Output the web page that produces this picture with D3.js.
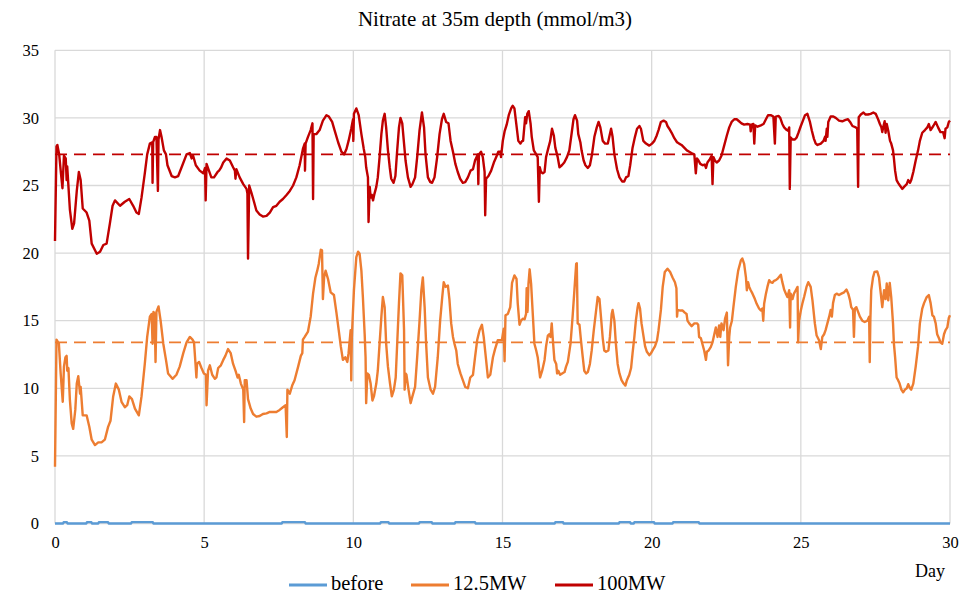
<!DOCTYPE html>
<html><head><meta charset="utf-8">
<script src="https://cdn.jsdelivr.net/npm/d3@7"></script>
<style>
body{margin:0;background:#fff;}
text{font-family:"Liberation Serif","Times New Roman",serif;fill:#000;}
</style></head>
<body><svg id="c" width="975" height="596"></svg>
<script>
const title = "Nitrate at 35m depth (mmol/m3)";
const xTicks = [0,5,10,15,20,25,30];
const yTicks = [0,5,10,15,20,25,30,35];
const seriesNames = ["before","12.5MW","100MW"];
const seriesColors = ["#5B9BD5","#ED7D31","#C00000"];
const mean125 = 13.4;
const mean100 = 27.3;

const before = [[0,0],[0.27,0],[0.29,0.1],[0.4,0.1],[0.42,0],[1.05,0],[1.07,0.1],[1.22,0.1],[1.24,0],[1.45,0],[1.47,0.1],[1.78,0.1],[1.8,0],[2.55,0],[2.57,0.1],[3.28,0.1],[3.3,0],[7.6,0],[7.62,0.1],[8.38,0.1],[8.4,0],[10.9,0],[10.92,0.1],[11.18,0.1],[11.2,0],[12.2,0],[12.22,0.1],[12.63,0.1],[12.65,0],[13.4,0],[13.42,0.1],[14.08,0.1],[14.1,0],[16.75,0],[16.77,0.1],[17.03,0.1],[17.05,0],[18.9,0],[18.92,0.1],[19.28,0.1],[19.3,0],[19.4,0],[19.42,0.1],[20.08,0.1],[20.1,0],[20.7,0],[20.72,0.1],[21.58,0.1],[21.6,0],[30,0]];

const mw125 = [[0,4.2],[0.05,13.6],[0.13,13.3],[0.19,11.1],[0.26,9.0],[0.30,11.6],[0.35,12.3],[0.39,12.4],[0.41,11.3],[0.45,11.5],[0.50,9.1],[0.56,7.4],[0.61,7.0],[0.68,8.4],[0.73,10.35],[0.78,10.9],[0.84,9.6],[0.86,10.1],[0.93,8.0],[1.06,8.0],[1.15,7.15],[1.23,6.2],[1.34,5.8],[1.45,6.0],[1.56,6.0],[1.67,6.2],[1.78,7.15],[1.86,7.6],[1.95,9.4],[2.04,10.35],[2.14,9.9],[2.23,9.0],[2.34,8.6],[2.42,8.75],[2.49,9.4],[2.58,9.2],[2.68,8.5],[2.81,8.0],[2.90,9.4],[3.01,11.8],[3.09,13.8],[3.18,15.3],[3.24,15.5],[3.27,13.3],[3.30,15.65],[3.34,15.5],[3.37,11.95],[3.40,15.65],[3.47,16.06],[3.54,15.0],[3.63,13.3],[3.72,12.1],[3.79,11.1],[3.94,10.7],[4.07,11.0],[4.18,11.6],[4.30,12.6],[4.41,13.4],[4.52,13.8],[4.61,13.6],[4.66,13.4],[4.71,11.8],[4.74,10.8],[4.76,11.8],[4.83,11.95],[4.91,11.5],[4.99,11.1],[5.06,11.0],[5.08,8.75],[5.13,11.3],[5.19,11.7],[5.27,11.0],[5.36,10.7],[5.41,10.8],[5.47,11.5],[5.56,11.7],[5.64,12.1],[5.71,12.4],[5.80,12.9],[5.89,12.6],[5.97,11.8],[6.05,11.3],[6.12,10.8],[6.16,11.0],[6.23,10.35],[6.31,9.9],[6.34,7.5],[6.36,10.6],[6.42,10.6],[6.47,9.2],[6.56,8.5],[6.64,8.1],[6.75,7.9],[6.86,7.95],[6.97,8.1],[7.09,8.15],[7.20,8.25],[7.31,8.25],[7.42,8.25],[7.53,8.4],[7.64,8.6],[7.73,8.75],[7.77,6.4],[7.79,9.9],[7.87,9.6],[7.95,10.2],[8.03,10.6],[8.15,11.6],[8.24,12.4],[8.29,12.6],[8.31,13.6],[8.37,13.8],[8.48,14.2],[8.57,15.3],[8.65,17.0],[8.73,18.2],[8.79,18.7],[8.84,19.2],[8.91,20.25],[8.95,20.2],[8.98,16.6],[9.02,18.2],[9.07,18.7],[9.15,18.1],[9.24,17.1],[9.35,16.9],[9.43,15.65],[9.51,14.3],[9.58,13.1],[9.65,12.1],[9.73,12.3],[9.80,11.95],[9.84,12.6],[9.91,14.3],[9.93,10.6],[9.95,13.8],[10.02,17.25],[10.10,19.7],[10.16,20.1],[10.21,19.95],[10.27,18.7],[10.32,16.75],[10.38,14.0],[10.41,12.3],[10.43,8.9],[10.47,11.1],[10.52,11.0],[10.58,10.35],[10.64,9.1],[10.69,9.4],[10.77,10.35],[10.82,11.3],[10.88,13.3],[10.94,15.3],[10.99,16.75],[11.05,16.0],[11.10,13.3],[11.16,11.6],[11.23,10.35],[11.29,9.4],[11.36,9.9],[11.42,10.8],[11.47,13.3],[11.53,16.3],[11.58,18.5],[11.64,18.35],[11.70,14.3],[11.72,9.9],[11.75,11.1],[11.78,11.0],[11.85,9.9],[11.92,8.9],[11.98,9.4],[12.07,10.1],[12.14,12.3],[12.22,15.0],[12.28,17.25],[12.33,18.2],[12.39,16.0],[12.44,13.3],[12.50,10.8],[12.59,9.9],[12.67,9.6],[12.74,10.1],[12.83,12.3],[12.91,15.0],[12.98,16.75],[13.03,17.85],[13.09,17.5],[13.17,17.6],[13.22,16.6],[13.28,14.8],[13.34,13.8],[13.39,13.3],[13.45,12.8],[13.50,11.8],[13.59,11.1],[13.67,10.6],[13.75,10.1],[13.84,10.0],[13.92,10.8],[14.01,11.0],[14.08,12.3],[14.15,13.55],[14.23,14.3],[14.31,14.7],[14.37,13.8],[14.45,12.1],[14.51,10.8],[14.59,11.0],[14.68,12.3],[14.75,12.9],[14.84,13.55],[14.90,13.55],[14.98,13.55],[15.04,14.4],[15.07,12.0],[15.10,15.4],[15.18,15.5],[15.26,16.0],[15.32,17.8],[15.40,18.35],[15.47,18.1],[15.51,16.3],[15.57,14.7],[15.62,15.0],[15.68,15.15],[15.74,15.1],[15.79,15.5],[15.81,17.4],[15.84,15.65],[15.87,17.7],[15.91,18.8],[15.96,17.7],[16.02,15.3],[16.07,13.3],[16.13,12.8],[16.18,12.3],[16.26,10.8],[16.33,11.3],[16.41,12.1],[16.46,13.1],[16.52,13.9],[16.57,14.0],[16.61,13.8],[16.65,14.8],[16.68,13.8],[16.74,12.1],[16.80,11.8],[16.83,11.1],[16.87,11.3],[16.93,11.0],[17.00,11.1],[17.08,11.2],[17.13,11.6],[17.19,11.95],[17.28,13.3],[17.35,15.3],[17.41,17.25],[17.47,19.2],[17.49,19.25],[17.52,14.8],[17.58,14.7],[17.63,13.55],[17.69,12.3],[17.74,11.3],[17.80,11.1],[17.86,11.2],[17.93,11.8],[17.99,12.8],[18.06,14.3],[18.14,15.8],[18.19,16.75],[18.25,16.6],[18.30,15.3],[18.36,13.7],[18.41,12.8],[18.47,12.7],[18.55,12.8],[18.60,13.8],[18.66,15.5],[18.69,15.8],[18.75,15.0],[18.80,13.3],[18.86,11.8],[18.92,11.1],[18.99,10.6],[19.06,10.35],[19.12,10.2],[19.17,10.6],[19.25,11.0],[19.31,11.5],[19.36,12.6],[19.42,13.8],[19.47,15.0],[19.53,16.0],[19.56,16.3],[19.61,15.9],[19.66,14.8],[19.73,13.8],[19.78,13.1],[19.84,12.7],[19.92,12.45],[19.98,12.6],[20.03,12.8],[20.11,13.1],[20.18,13.55],[20.23,14.3],[20.31,15.8],[20.37,17.5],[20.44,18.6],[20.53,18.85],[20.62,18.6],[20.70,18.2],[20.78,17.85],[20.83,17.4],[20.85,15.3],[20.87,15.8],[20.96,15.75],[21.04,15.75],[21.11,15.6],[21.17,15.5],[21.20,15.0],[21.26,14.8],[21.34,14.6],[21.43,14.8],[21.52,14.8],[21.56,14.7],[21.59,13.8],[21.65,13.7],[21.71,13.2],[21.76,12.8],[21.82,12.1],[21.85,12.7],[21.91,12.8],[21.98,13.05],[22.04,13.4],[22.10,14.0],[22.15,14.5],[22.21,13.8],[22.26,14.65],[22.30,13.8],[22.34,14.8],[22.41,14.3],[22.46,15.15],[22.52,15.6],[22.56,11.7],[22.60,13.8],[22.63,14.5],[22.69,15.0],[22.74,16.0],[22.82,17.5],[22.90,18.7],[22.99,19.45],[23.04,19.6],[23.10,19.2],[23.16,18.2],[23.19,17.25],[23.23,17.85],[23.27,17.5],[23.32,17.25],[23.38,17.0],[23.46,16.6],[23.52,16.25],[23.60,15.9],[23.66,15.75],[23.71,15.9],[23.74,15.0],[23.77,16.25],[23.83,17.0],[23.88,17.5],[23.94,18.0],[23.99,17.85],[24.05,17.8],[24.10,17.95],[24.16,18.0],[24.22,18.1],[24.33,18.4],[24.38,17.85],[24.42,17.5],[24.44,17.3],[24.50,17.0],[24.55,16.75],[24.61,17.25],[24.64,14.5],[24.66,17.0],[24.72,16.6],[24.77,17.0],[24.83,17.25],[24.89,17.5],[24.91,13.4],[24.94,15.0],[25.00,15.75],[25.05,16.25],[25.11,16.75],[25.19,17.5],[25.25,17.85],[25.33,17.5],[25.39,16.5],[25.47,14.8],[25.53,13.9],[25.61,13.55],[25.67,12.9],[25.72,13.8],[25.78,14.0],[25.83,14.3],[25.89,14.8],[25.95,15.3],[26.00,15.8],[26.04,15.3],[26.08,16.3],[26.14,16.9],[26.20,17.0],[26.28,16.9],[26.36,17.0],[26.45,17.1],[26.53,17.3],[26.59,17.0],[26.65,16.5],[26.69,16.0],[26.75,15.8],[26.78,13.8],[26.81,15.9],[26.86,16.0],[26.92,15.65],[26.98,15.3],[27.06,15.0],[27.14,14.9],[27.23,15.0],[27.29,15.3],[27.31,11.95],[27.33,15.0],[27.36,17.25],[27.42,18.2],[27.47,18.6],[27.56,18.65],[27.62,18.2],[27.68,17.0],[27.73,16.0],[27.79,17.25],[27.84,16.6],[27.88,17.75],[27.93,16.5],[27.98,17.8],[28.03,16.75],[28.09,14.8],[28.12,13.3],[28.16,12.3],[28.21,10.8],[28.26,10.6],[28.31,10.35],[28.37,9.9],[28.43,9.7],[28.49,9.9],[28.55,10.0],[28.60,10.3],[28.66,10.0],[28.70,9.9],[28.77,10.35],[28.85,11.6],[28.93,13.1],[28.99,14.8],[29.07,15.9],[29.13,16.3],[29.22,16.75],[29.29,16.9],[29.35,16.3],[29.41,15.4],[29.46,15.3],[29.52,14.8],[29.57,14.0],[29.63,13.7],[29.68,13.4],[29.74,13.3],[29.80,14.0],[29.85,14.3],[29.91,14.5],[29.96,15.2],[30,15.4]];

const mw100 = [[0,20.9],[0.05,27.9],[0.08,28.0],[0.14,27.3],[0.2,25.9],[0.25,24.8],[0.30,27.2],[0.36,27.0],[0.39,25.4],[0.41,26.4],[0.46,24.6],[0.50,23.2],[0.58,21.8],[0.64,22.2],[0.73,24.6],[0.80,26.0],[0.86,25.4],[0.93,23.3],[1.06,23.0],[1.15,22.4],[1.23,20.7],[1.40,19.95],[1.51,20.1],[1.62,20.6],[1.73,20.7],[1.84,22.2],[1.93,23.5],[2.01,23.9],[2.18,23.5],[2.34,23.8],[2.49,24.0],[2.62,23.5],[2.73,23.0],[2.81,22.9],[2.90,24.1],[3.01,25.9],[3.09,27.3],[3.18,28.1],[3.26,28.2],[3.27,25.2],[3.29,28.2],[3.35,28.6],[3.40,28.6],[3.45,24.6],[3.47,28.4],[3.52,29.1],[3.57,28.6],[3.65,27.6],[3.72,27.3],[3.77,26.5],[3.91,25.7],[4.02,25.6],[4.13,25.7],[4.27,26.5],[4.41,27.3],[4.52,27.4],[4.58,27.0],[4.63,27.2],[4.72,26.5],[4.85,26.1],[4.97,25.9],[5.03,26.3],[5.05,23.9],[5.08,26.6],[5.16,26.1],[5.24,25.6],[5.33,25.6],[5.45,26.0],[5.50,26.1],[5.56,26.3],[5.64,26.7],[5.75,27.0],[5.86,26.85],[5.97,26.35],[6.03,26.1],[6.05,25.5],[6.08,26.2],[6.19,25.6],[6.31,25.1],[6.42,24.75],[6.45,24.4],[6.47,19.6],[6.51,25.0],[6.58,24.5],[6.67,23.8],[6.75,23.15],[6.86,22.86],[6.97,22.7],[7.09,22.75],[7.20,23.0],[7.31,23.4],[7.42,23.5],[7.53,23.8],[7.64,24.0],[7.76,24.3],[7.87,24.6],[7.98,25.0],[8.09,25.6],[8.20,26.5],[8.31,27.7],[8.37,28.1],[8.38,26.1],[8.40,28.1],[8.48,28.6],[8.57,29.1],[8.63,29.6],[8.65,24.0],[8.67,28.8],[8.76,28.8],[8.87,29.1],[8.98,29.8],[9.10,30.2],[9.18,30.1],[9.29,29.7],[9.37,29.1],[9.49,28.2],[9.60,27.5],[9.69,27.3],[9.77,27.7],[9.84,28.3],[9.93,29.2],[9.99,29.9],[10.00,28.3],[10.02,30.3],[10.10,30.7],[10.18,30.2],[10.27,28.8],[10.35,27.7],[10.40,27.1],[10.43,26.35],[10.49,25.6],[10.51,22.3],[10.55,24.9],[10.58,24.1],[10.62,24.3],[10.66,23.9],[10.71,24.4],[10.77,24.9],[10.82,25.6],[10.88,27.1],[10.94,28.8],[10.99,29.8],[11.05,30.3],[11.10,29.3],[11.16,27.6],[11.22,26.35],[11.27,25.5],[11.35,25.2],[11.41,25.7],[11.47,27.6],[11.53,29.3],[11.58,30.0],[11.64,29.6],[11.70,28.1],[11.75,26.85],[11.83,25.6],[11.92,24.9],[11.98,25.1],[12.07,25.6],[12.14,27.1],[12.22,29.1],[12.30,30.4],[12.37,29.3],[12.42,27.3],[12.50,25.6],[12.58,25.25],[12.64,25.2],[12.72,25.6],[12.81,27.1],[12.89,28.8],[12.97,29.9],[13.03,30.3],[13.11,29.7],[13.19,29.6],[13.26,28.3],[13.34,27.5],[13.42,26.6],[13.50,26.0],[13.58,25.5],[13.67,25.2],[13.75,25.25],[13.84,25.6],[13.93,26.1],[14.01,26.2],[14.08,26.85],[14.17,27.3],[14.19,25.1],[14.21,27.3],[14.28,27.5],[14.34,27.1],[14.40,26.0],[14.42,22.8],[14.45,25.5],[14.53,25.7],[14.62,26.1],[14.71,26.7],[14.79,27.1],[14.86,27.5],[14.93,27.5],[14.95,27.1],[15.01,28.3],[15.07,29.0],[15.14,29.5],[15.21,30.2],[15.29,30.7],[15.34,30.9],[15.40,30.7],[15.46,29.6],[15.53,28.3],[15.60,28.1],[15.66,28.3],[15.69,28.3],[15.71,28.8],[15.76,30.05],[15.79,29.6],[15.83,30.3],[15.88,30.5],[15.94,29.6],[15.98,28.6],[16.05,27.6],[16.13,27.3],[16.18,27.1],[16.22,23.8],[16.25,26.35],[16.29,26.0],[16.35,25.9],[16.41,26.0],[16.46,27.1],[16.54,27.8],[16.60,28.3],[16.66,29.2],[16.72,28.7],[16.77,27.8],[16.85,27.1],[16.91,26.35],[16.99,26.5],[17.07,26.7],[17.16,27.1],[17.24,27.6],[17.32,28.9],[17.38,29.9],[17.43,30.2],[17.50,29.8],[17.54,28.8],[17.61,28.2],[17.65,27.6],[17.72,26.85],[17.78,26.5],[17.86,26.3],[17.93,26.5],[18.00,27.3],[18.08,28.6],[18.16,29.3],[18.22,29.7],[18.28,29.3],[18.36,28.3],[18.44,28.1],[18.53,28.1],[18.58,28.6],[18.64,29.2],[18.69,28.6],[18.75,27.3],[18.84,26.2],[18.92,25.6],[19.01,25.3],[19.08,25.3],[19.14,25.6],[19.22,25.7],[19.28,26.5],[19.36,27.8],[19.44,28.6],[19.51,29.2],[19.59,29.4],[19.64,29.2],[19.72,28.3],[19.81,28.1],[19.92,27.95],[20.01,28.1],[20.09,28.3],[20.17,28.7],[20.23,29.1],[20.31,29.7],[20.40,29.8],[20.48,29.7],[20.53,29.4],[20.59,29.2],[20.67,28.9],[20.76,28.5],[20.85,28.2],[20.92,28.1],[21.00,28.0],[21.09,27.8],[21.18,27.6],[21.26,27.5],[21.37,27.35],[21.43,27.3],[21.48,25.9],[21.52,27.0],[21.57,26.85],[21.63,26.6],[21.71,26.5],[21.78,26.55],[21.82,26.3],[21.87,26.7],[21.95,26.95],[22.01,27.2],[22.04,25.1],[22.07,27.1],[22.12,26.85],[22.18,26.7],[22.26,26.85],[22.34,27.2],[22.43,27.95],[22.52,28.7],[22.60,29.3],[22.68,29.7],[22.77,29.9],[22.85,29.9],[22.93,29.75],[23.01,29.6],[23.10,29.5],[23.21,29.55],[23.30,29.5],[23.32,29.0],[23.35,29.5],[23.41,29.55],[23.44,28.1],[23.47,29.45],[23.55,29.35],[23.66,29.45],[23.75,29.55],[23.83,29.9],[23.90,30.2],[23.99,30.2],[24.08,30.1],[24.13,28.1],[24.16,30.1],[24.25,30.15],[24.31,30.0],[24.38,29.55],[24.44,29.3],[24.53,29.1],[24.57,29.05],[24.61,29.3],[24.63,24.75],[24.66,28.55],[24.72,28.4],[24.80,28.4],[24.86,28.55],[24.92,28.9],[25.00,29.4],[25.08,29.85],[25.14,30.2],[25.22,30.3],[25.30,29.75],[25.37,29.05],[25.44,28.45],[25.50,28.1],[25.56,28.0],[25.67,28.1],[25.76,28.3],[25.81,28.6],[25.83,28.3],[25.87,29.2],[25.89,28.6],[25.92,29.7],[26.00,30.1],[26.09,30.1],[26.17,30.0],[26.28,29.8],[26.39,29.75],[26.50,29.85],[26.58,29.9],[26.65,29.7],[26.73,29.4],[26.84,29.3],[26.89,29.2],[26.92,24.9],[26.94,30.05],[27.01,30.25],[27.10,30.4],[27.17,30.25],[27.25,30.25],[27.34,30.3],[27.43,30.4],[27.51,30.3],[27.59,29.9],[27.65,29.55],[27.70,29.3],[27.73,28.95],[27.77,29.4],[27.81,29.75],[27.84,28.9],[27.88,29.55],[27.93,29.05],[27.99,28.3],[28.03,28.1],[28.09,27.6],[28.12,27.0],[28.16,26.1],[28.21,25.4],[28.26,25.2],[28.32,25.0],[28.40,24.75],[28.46,24.9],[28.55,25.1],[28.60,25.4],[28.66,25.2],[28.70,25.4],[28.77,26.0],[28.85,26.85],[28.93,27.6],[28.99,28.3],[29.07,28.9],[29.16,29.1],[29.24,29.3],[29.29,29.55],[29.35,29.1],[29.44,29.4],[29.52,29.7],[29.60,29.3],[29.68,28.95],[29.77,28.95],[29.82,28.5],[29.85,29.2],[29.91,29.3],[29.96,29.7],[30,29.8]];

const svg = d3.select("#c");
const x = d3.scaleLinear().domain([0,30]).range([55,950]);
const y = d3.scaleLinear().domain([0,35]).range([523.5,50.3]);

// gridlines
const grid = svg.append("g");
grid.selectAll("line.h").data(yTicks).join("line")
  .attr("x1",x(0)).attr("x2",x(30)).attr("y1",d=>y(d)).attr("y2",d=>y(d))
  .attr("stroke","#D9D9D9").attr("stroke-width",1.3);
grid.selectAll("line.v").data(xTicks).join("line")
  .attr("x1",d=>x(d)).attr("x2",d=>x(d)).attr("y1",y(0)).attr("y2",y(35))
  .attr("stroke","#D9D9D9").attr("stroke-width",1.3);

// axes
const xAxis = svg.append("g").attr("transform",`translate(0,${y(0)})`)
  .call(d3.axisBottom(x).tickValues(xTicks).tickSize(0).tickPadding(13).tickFormat(d3.format("d")));
const yAxis = svg.append("g").attr("transform",`translate(${x(0)},0)`)
  .call(d3.axisLeft(y).tickValues(yTicks).tickSize(0).tickPadding(16).tickFormat(d3.format("d")));
[xAxis,yAxis].forEach(a=>{a.select(".domain").remove();a.selectAll("text").style("font-size","16.5px").style("font-family","'Liberation Serif',serif").attr("fill","#000");});

// mean dashed lines
svg.append("line").attr("x1",x(0)).attr("x2",x(30)).attr("y1",y(mean125)).attr("y2",y(mean125))
  .attr("stroke",seriesColors[1]).attr("stroke-width",1.8).attr("stroke-dasharray","12,7");
svg.append("line").attr("x1",x(0)).attr("x2",x(30)).attr("y1",y(mean100)).attr("y2",y(mean100))
  .attr("stroke",seriesColors[2]).attr("stroke-width",1.8).attr("stroke-dasharray","12,7");

const line = d3.line().x(d=>x(d[0])).y(d=>y(d[1]));
[before,mw125,mw100].forEach((s,i)=>{
  svg.append("path").attr("d",line(s)).attr("fill","none")
    .attr("stroke",seriesColors[i]).attr("stroke-width",2.4).attr("stroke-linejoin","round");
});

// title
svg.append("text").attr("x",495).attr("y",26).attr("text-anchor","middle")
  .style("font-size","21px").text(title);
// axis title
svg.append("text").attr("x",945).attr("y",577).attr("text-anchor","end")
  .style("font-size","18px").text("Day");

// legend
const legX = [289,411,555];
const lg = svg.append("g");
seriesNames.forEach((n,i)=>{
  lg.append("line").attr("x1",legX[i]).attr("x2",legX[i]+38).attr("y1",585).attr("y2",585)
    .attr("stroke",seriesColors[i]).attr("stroke-width",3);
  lg.append("text").attr("x",legX[i]+42).attr("y",590).style("font-size","20.5px").text(n);
});
</script></body></html>
